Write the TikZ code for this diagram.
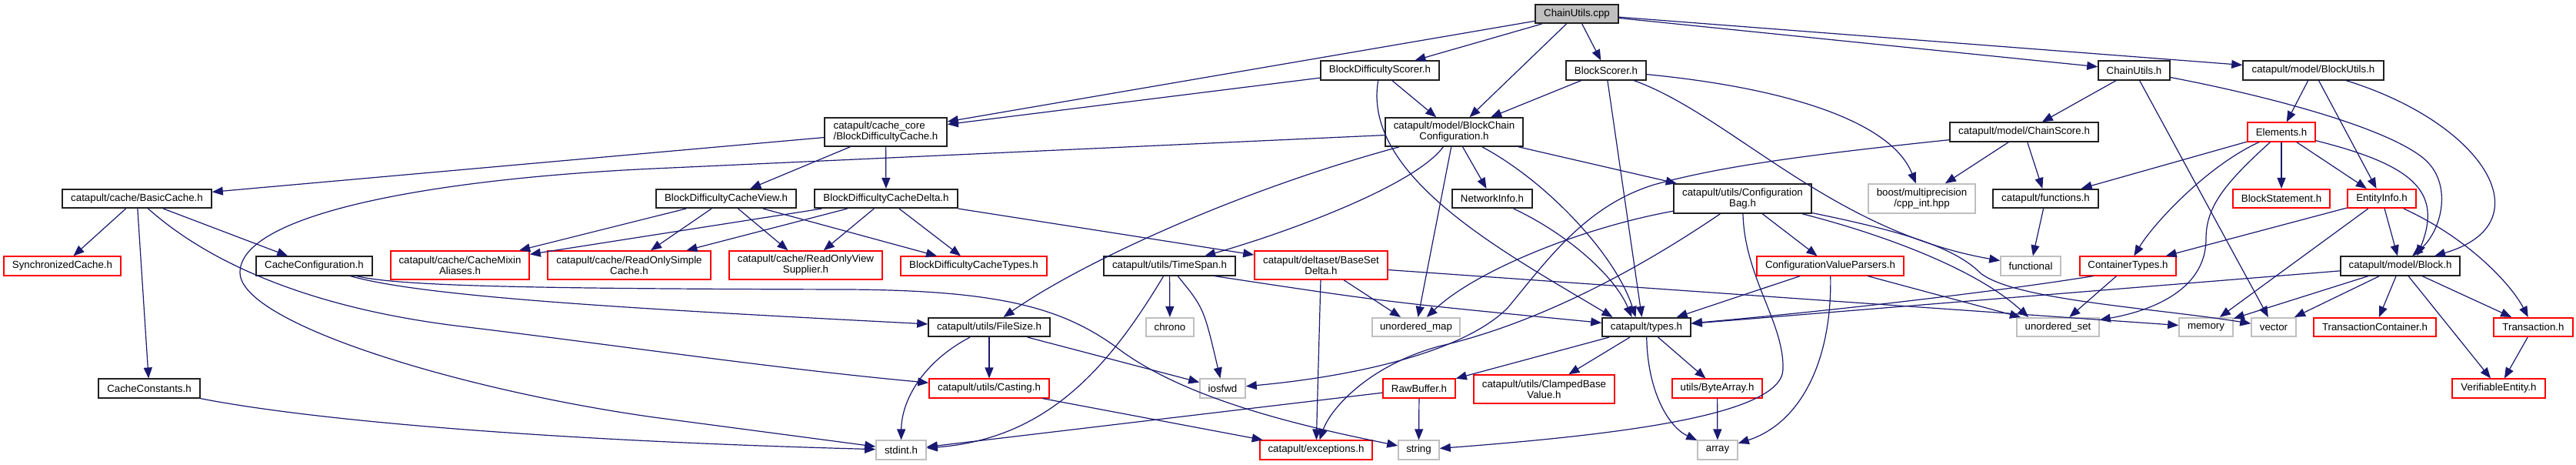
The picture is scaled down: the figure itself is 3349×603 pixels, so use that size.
\documentclass[tikz,border=0pt]{standalone}
\usepackage{fontspec}
\setmainfont{Liberation Sans}
\usetikzlibrary{arrows.meta}
\definecolor{edgecol}{HTML}{191970}
\definecolor{graybox}{HTML}{BFBFBF}
\definecolor{redbord}{HTML}{FF0000}
\definecolor{blkbord}{HTML}{202020}
\begin{document}
\begin{tikzpicture}[x=1pt,y=-1pt,
  box/.style={rectangle, line width=1.6pt, fill=white, inner sep=0pt, align=center,
    font=\fontsize{13.3}{14}\selectfont, minimum height=24.5pt},
  blk/.style={box, draw=blkbord},
  redbox/.style={box, draw=redbord},
  grybox/.style={box, draw=graybox},
  tall/.style={minimum height=37pt},
  dep/.style={draw=edgecol, line width=1.2pt, -{Triangle[length=14pt,width=11pt]}},
]
\useasboundingbox[fill=white] (0,0) rectangle (3349,603);

% row 1
\node[blk, fill=graybox, minimum width=108] (cpp) at (2050,18) {ChainUtils.cpp};
% row 2
\node[blk, minimum width=154] (bdscorer) at (1794,91.5) {BlockDifficultyScorer.h};
\node[blk, minimum width=104] (bscorer) at (2088,91.5) {BlockScorer.h};
\node[blk, minimum width=93] (cuh) at (2774.5,91.5) {ChainUtils.h};
\node[blk, minimum width=183] (butils) at (3007.5,91.5) {catapult/model/BlockUtils.h};
% row 3
\node[blk, tall, minimum width=159, align=left] (bdcache) at (1151.5,171.5) {catapult/cache\_core\\/BlockDifficultyCache.h};
\node[blk, tall, minimum width=179] (bcc) at (1890.5,171.5) {catapult/model/BlockChain\\Configuration.h};
\node[blk, minimum width=193] (cscore) at (2631.5,171.5) {catapult/model/ChainScore.h};
\node[redbox, minimum width=88] (elements) at (2966,171.5) {Elements.h};
% row 4
\node[blk, minimum width=194] (basic) at (178,258) {catapult/cache/BasicCache.h};
\node[blk, minimum width=182] (bdview) at (944,258) {BlockDifficultyCacheView.h};
\node[blk, minimum width=186] (bddelta) at (1152,258) {BlockDifficultyCacheDelta.h};
\node[blk, minimum width=104] (netinfo) at (1940,258) {NetworkInfo.h};
\node[blk, minimum width=179, minimum height=38] (cbag) at (2265.5,258) {catapult/utils/Configuration\\Bag.h};
\node[grybox, minimum width=139, minimum height=38] (boost) at (2498.5,258) {boost/multiprecision\\/cpp\_int.hpp};
\node[blk, minimum width=137] (functions) at (2659.5,258) {catapult/functions.h};
\node[redbox, minimum width=126] (bstmt) at (2966,258) {BlockStatement.h};
\node[redbox, minimum width=89] (entity) at (3096.5,258) {EntityInfo.h};
% row 5
\node[redbox, minimum width=152] (sync) at (81,345.5) {SynchronizedCache.h};
\node[blk, minimum width=151] (cconf) at (408.5,345.5) {CacheConfiguration.h};
\node[redbox, tall, minimum width=180] (mixin) at (598,344.5) {catapult/cache/CacheMixin\\Aliases.h};
\node[redbox, tall, minimum width=212] (rosimple) at (818,344.5) {catapult/cache/ReadOnlySimple\\Cache.h};
\node[redbox, tall, minimum width=199] (roview) at (1047.5,344.5) {catapult/cache/ReadOnlyView\\Supplier.h};
\node[redbox, minimum width=190] (bdtypes) at (1266,345.5) {BlockDifficultyCacheTypes.h};
\node[blk, minimum width=171] (timespan) at (1520.5,345.5) {catapult/utils/TimeSpan.h};
\node[redbox, tall, minimum width=173] (basesetdelta) at (1717.5,344.5) {catapult/deltaset/BaseSet\\Delta.h};
\node[redbox, minimum width=191] (cvp) at (2379.5,345.5) {ConfigurationValueParsers.h};
\node[grybox, minimum width=78] (functional) at (2640,345.5) {functional};
\node[redbox, minimum width=125] (ctypes) at (2766.5,345.5) {ContainerTypes.h};
\node[blk, minimum width=155] (block) at (3120.5,345.5) {catapult/model/Block.h};
% row 6
\node[blk, minimum width=158] (filesize) at (1286,425) {catapult/utils/FileSize.h};
\node[grybox, minimum width=62] (chrono) at (1521,425) {chrono};
\node[grybox, minimum width=114] (umap) at (1841,425) {unordered\_map};
\node[blk, minimum width=115] (types) at (2140.5,425) {catapult/types.h};
\node[grybox, minimum width=107] (uset) at (2675.5,425) {unordered\_set};
\node[grybox, minimum width=70] (memory) at (2868,425) {memory};
\node[grybox, minimum width=58] (vector) at (2956,425) {vector};
\node[redbox, minimum width=159] (tcont) at (3087.5,425) {TransactionContainer.h};
\node[redbox, minimum width=103] (trans) at (3293.5,425) {Transaction.h};
% row 7
\node[blk, minimum width=132] (cconst) at (194,504.5) {CacheConstants.h};
\node[redbox, minimum width=156] (casting) at (1286,504.5) {catapult/utils/Casting.h};
\node[grybox, minimum width=59] (iosfwd) at (1589.5,504.5) {iosfwd};
\node[redbox, minimum width=94] (rawbuf) at (1845,504.5) {RawBuffer.h};
\node[redbox, tall, minimum width=183] (clamped) at (2007.5,505.5) {catapult/utils/ClampedBase\\Value.h};
\node[redbox, minimum width=117] (bytearray) at (2232.5,504.5) {utils/ByteArray.h};
\node[redbox, minimum width=121] (verif) at (3248.5,504.5) {VerifiableEntity.h};
% row 8
\node[grybox, minimum width=65] (stdint) at (1171.5,584.5) {stdint.h};
\node[redbox, minimum width=146] (exceptions) at (1711,584.5) {catapult/exceptions.h};
\node[grybox, minimum width=53] (string) at (1844.5,584.5) {string};
\node[grybox, minimum width=52] (array) at (2233,584.5) {array};

% edges
\draw[dep] (cpp) -- (bdcache);
\draw[dep] (cpp) -- (bdscorer);
\draw[dep] (cpp) -- (bcc);
\draw[dep] (cpp) -- (bscorer);
\draw[dep] (cpp) -- (cuh);
\draw[dep] (cpp) -- (butils);

\draw[dep] (bdscorer) -- (bdcache);
\draw[dep] (bdscorer) -- (bcc);
\draw[dep] (bdscorer) .. controls (1770,230) and (1960,330) .. ([xshift=-44]types.north);

\draw[dep] (bscorer) -- (bcc);
\draw[dep] (bscorer) -- ([xshift=-6]types.north);
\draw[dep] (bscorer) .. controls (2330,115) and (2460,160) .. (boost);
\draw[dep] (bscorer) .. controls (2250,150) and (2380,300) .. (functional);

\draw[dep] (bcc) -- (850,219) .. controls (550,233) and (312,280) .. (312,354) .. controls (312,420) and (600,507) .. (850,542) -- (stdint);
\draw[dep] (bcc) .. controls (1600,250) and (1400,345) .. (filesize);
\draw[dep] (bcc) .. controls (1840,240) and (1680,300) .. (timespan);
\draw[dep] (bcc) -- (umap);
\draw[dep] (bcc) -- (netinfo);
\draw[dep] (bcc) .. controls (2010,235) and (2100,330) .. ([xshift=-14]types.north);
\draw[dep] (bcc) -- (cbag);

\draw[dep] (bdcache) -- (basic);
\draw[dep] (bdcache) -- (bdview);
\draw[dep] (bdcache) -- (bddelta);

\draw[dep] (basic) -- (sync);
\draw[dep] (basic) -- (cconst);
\draw[dep] (basic) -- (cconf);
\draw[dep] (basic) .. controls (270,340) and (400,400) .. (600,424) .. controls (800,448) and (1000,478) .. (casting);

\draw[dep] (cconst) .. controls (400,545) and (700,572) .. (stdint);

\draw[dep] (cconf) .. controls (550,385) and (800,400) .. (filesize);
\draw[dep] (cconf) .. controls (520,372) and (700,375) .. (1100,376) .. controls (1300,377) and (1380,400) .. (1450,450) .. controls (1540,520) and (1700,555) .. (string);

\draw[dep] (bdview) -- (mixin);
\draw[dep] (bdview) -- (rosimple);
\draw[dep] (bdview) -- (roview);
\draw[dep] (bdview) -- (bdtypes);

\draw[dep] (bddelta) -- (mixin);
\draw[dep] (bddelta) -- (rosimple);
\draw[dep] (bddelta) -- (roview);
\draw[dep] (bddelta) -- (bdtypes);
\draw[dep] (bddelta.south east) -- (basesetdelta);

\draw[dep] (timespan) -- (chrono);
\draw[dep] (timespan) .. controls (1565,400) .. (iosfwd);
\draw[dep] (timespan) .. controls (1440,480) and (1360,570) .. (stdint);
\draw[dep] ([xshift=-28]timespan.south east) .. controls (1800,392) .. (types);

\draw[dep] (basesetdelta) -- (exceptions);
\draw[dep] (basesetdelta) -- (umap);
\draw[dep] (basesetdelta) -- (memory);

\draw[dep] (filesize) -- (casting);
\draw[dep] (filesize) .. controls (1200,470) and (1172,520) .. (stdint);
\draw[dep] (filesize) -- (iosfwd);

\draw[dep] (casting) -- (exceptions);

\draw[dep] (cbag) .. controls (2060,295) and (1920,350) .. (umap);
\draw[dep] (cbag) .. controls (2130,350) and (2000,420) .. (1870,450) .. controls (1780,475) and (1730,530) .. (exceptions);
\draw[dep] (cbag) .. controls (2268,360) and (2320,420) .. (2318,480) .. controls (2316,540) and (2100,565) .. (string);
\draw[dep] (cbag) -- (cvp);
\draw[dep] (cbag) .. controls (2450,305) and (2570,350) .. ([xshift=16]uset.north west);
\draw[dep] (cbag) .. controls (2470,300) and (2540,320) .. (2575,355) .. controls (2620,390) and (2800,400) .. (vector);

\draw[dep] (cvp) -- (types);
\draw[dep] (cvp) .. controls (2382,470) and (2340,550) .. (array);
\draw[dep] (cvp) -- (uset);

\draw[dep] (types) -- (rawbuf);
\draw[dep] (types) -- (clamped);
\draw[dep] (types) -- (bytearray);
\draw[dep] (types) .. controls (2142,510) and (2170,555) .. (array);

\draw[dep] (rawbuf) -- (string);
\draw[dep] (rawbuf) -- (stdint);
\draw[dep] (bytearray) -- (array);

\draw[dep] (netinfo) .. controls (2040,305) and (2100,360) .. ([xshift=-19]types.north);

\draw[dep] (cuh) -- (cscore);
\draw[dep] (cuh) -- (vector);
\draw[dep] (cuh) .. controls (2950,125) and (3100,165) .. (3150,205) .. controls (3190,237) and (3175,300) .. (block);

\draw[dep] (butils) -- (elements);
\draw[dep] (butils) -- (entity);
\draw[dep] (butils) .. controls (3230,160) and (3310,290) .. (block);

\draw[dep] (cscore) -- (boost);
\draw[dep] (cscore) -- (functions);
\draw[dep] (cscore) .. controls (2330,203) and (2230,218) .. (2150,240) .. controls (2060,268) and (2010,340) .. (1960,400) .. controls (1900,460) and (1750,490) .. (iosfwd);

\draw[dep] (elements) -- (functions);
\draw[dep] (elements) .. controls (2870,215) and (2800,290) .. (ctypes);
\draw[dep] (elements) .. controls (2890,240) and (2868,270) .. (2868,310) .. controls (2868,380) and (2790,405) .. (uset);
\draw[dep] (elements) -- (bstmt);
\draw[dep] (elements) -- (entity);
\draw[dep] (elements) .. controls (3140,215) and (3175,250) .. ([xshift=22]block.north);

\draw[dep] (functions) -- (functional);

\draw[dep] (entity) -- (ctypes);
\draw[dep] (entity) -- (memory);
\draw[dep] (entity) -- (block);
\draw[dep] (entity) .. controls (3210,310) and (3265,370) .. (trans);

\draw[dep] (ctypes) -- (uset);
\draw[dep] ([xshift=-45]ctypes.south) .. controls (2600,378) and (2400,402) .. (types);

\draw[dep] (block) -- (types);
\draw[dep] (block) -- (memory);
\draw[dep] (block) -- (vector);
\draw[dep] (block) -- (tcont);
\draw[dep] (block) -- (trans);
\draw[dep] (block) -- (verif);

\draw[dep] (trans) -- (verif);
\end{tikzpicture}
\end{document}
